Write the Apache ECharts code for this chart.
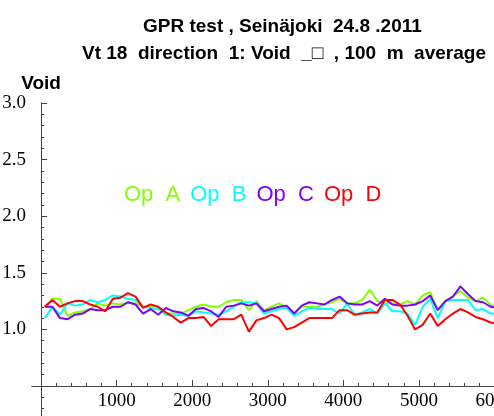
<!DOCTYPE html>
<html>
<head>
<meta charset="utf-8">
<script src="https://cdn.jsdelivr.net/npm/echarts@6/dist/echarts.min.js"></script>
<style>html,body{margin:0;padding:0;background:#fff}#c{width:494px;height:416px}</style>
</head>
<body>
<div id="c"></div>
<script>
// distance along road (m), one value per 100 m section
const distance = [50,150,250,350,450,550,650,750,850,950,1050,1150,1250,1350,1450,1550,1650,1750,1850,1950,
  2050,2150,2250,2350,2450,2550,2650,2750,2850,2950,3050,3150,3250,3350,3450,3550,3650,3750,3850,3950,
  4050,4150,4250,4350,4450,4550,4650,4750,4850,4950,5050,5150,5250,5350,5450,5550,5650,5750,5850,5950,6050];
const opA = [1.20,1.27,1.27,1.12,1.15,1.16,1.18,1.23,1.21,1.23,1.22,1.24,1.23,1.20,1.21,1.20,1.14,1.14,1.14,1.17,
  1.20,1.22,1.20,1.20,1.24,1.26,1.26,1.17,1.25,1.17,1.20,1.23,1.19,1.14,1.20,1.20,1.20,1.22,1.24,1.27,
  1.23,1.23,1.26,1.35,1.25,1.23,1.23,1.22,1.25,1.22,1.30,1.33,1.17,1.25,1.29,1.34,1.28,1.25,1.28,1.22,1.18];
const opB = [1.10,1.20,1.13,1.23,1.21,1.22,1.26,1.24,1.26,1.30,1.29,1.27,1.26,1.20,1.19,1.18,1.13,1.12,1.13,1.12,
  1.16,1.15,1.14,1.13,1.16,1.20,1.24,1.24,1.23,1.14,1.16,1.18,1.19,1.12,1.16,1.19,1.18,1.18,1.18,1.14,
  1.23,1.13,1.15,1.18,1.14,1.23,1.16,1.16,1.14,1.04,1.20,1.27,1.10,1.25,1.26,1.26,1.26,1.17,1.18,1.14,1.14];
const opC = [1.20,1.20,1.10,1.09,1.13,1.14,1.18,1.17,1.17,1.20,1.20,1.24,1.22,1.14,1.18,1.13,1.19,1.16,1.15,1.12,
  1.18,1.19,1.16,1.11,1.20,1.21,1.23,1.21,1.23,1.16,1.18,1.20,1.21,1.14,1.21,1.24,1.23,1.22,1.26,1.29,
  1.23,1.22,1.22,1.25,1.21,1.27,1.22,1.21,1.21,1.22,1.25,1.30,1.17,1.25,1.29,1.38,1.31,1.25,1.24,1.20,1.19];
const opD = [1.20,1.26,1.20,1.23,1.25,1.25,1.22,1.20,1.16,1.27,1.28,1.32,1.29,1.19,1.22,1.20,1.15,1.11,1.06,1.10,
  1.10,1.11,1.03,1.09,1.09,1.09,1.13,0.98,1.08,1.10,1.13,1.10,1.00,1.02,1.06,1.10,1.10,1.10,1.10,1.17,
  1.17,1.13,1.14,1.15,1.15,1.26,1.26,1.22,1.12,1.00,1.04,1.14,1.03,1.09,1.14,1.18,1.15,1.11,1.09,1.06,1.05];
const seriesNames = ['Op  A','Op  B','Op  C','Op  D'];
const seriesColors = ['#80ff00','#00ffff','#8000ff','#ff0000'];
const xMajorTicks = [1000,2000,3000,4000,5000,6000];
const xMinorTicks = [200,400,600,800,1200,1400,1600,1800,2200,2400,2600,2800,3200,3400,3600,3800,4200,4400,4600,4800,5200,5400,5600,5800];
const yMajorTicks = [1.0,1.5,2.0,2.5,3.0];
const yMinorTicks = [0.3,0.4,0.6,0.7,0.8,0.9,1.1,1.2,1.3,1.4,1.6,1.7,1.8,1.9,2.1,2.2,2.3,2.4,2.6,2.7,2.8,2.9];

const allSeries = [opA, opB, opC, opD];
const chart = echarts.init(document.getElementById('c'), null, {renderer:'canvas'});
const axisColor = '#444';
const serif = 'Liberation Serif';
const sans = 'Liberation Sans';
const xBase = {
  type:'value', min:-120, max:6100, position:'bottom', offset:-30,
  axisLine:{show:true, onZero:false, lineStyle:{color:axisColor, width:1}},
  splitLine:{show:false}
};
const yBase = {
  type:'value', min:0.235, max:3.0, position:'left',
  axisLine:{show:true, onZero:true, onZeroAxisIndex:0, lineStyle:{color:axisColor, width:1}},
  splitLine:{show:false}
};
chart.setOption({
  animation:false,
  backgroundColor:'#fff',
  title:[
    {text:'GPR test , Seinäjoki  24.8 .2011', left:143, top:17, padding:0,
     textStyle:{fontFamily:sans, fontWeight:'bold', fontSize:19, color:'#000'}},
    {text:'Vt 18  direction  1: Void  _□  , 100  m  average', left:82, top:44, padding:0,
     textStyle:{fontFamily:sans, fontWeight:'bold', fontSize:19, color:'#000'}}
  ],
  legend:{
    left:119, top:184, padding:0, itemGap:5, itemWidth:0, itemHeight:0, icon:'rect',
    selectedMode:false,
    data: seriesNames.map((n,i)=>({name:n, textStyle:{color:seriesColors[i]}})),
    textStyle:{fontFamily:sans, fontSize:22}
  },
  grid:{left:32, right:-8, top:103, bottom:0, containLabel:false, outerBoundsMode:'none'},
  xAxis:[
    Object.assign({}, xBase, {
      axisTick:{show:true, inside:true, length:6, customValues:xMajorTicks, lineStyle:{color:axisColor}},
      axisLabel:{show:true, customValues:xMajorTicks, margin:6, fontFamily:serif, fontSize:19, color:'#000',
        formatter:v=>String(v)}
    }),
    Object.assign({}, xBase, {
      axisTick:{show:true, inside:true, length:3, customValues:xMinorTicks, lineStyle:{color:axisColor}},
      axisLabel:{show:false}
    })
  ],
  yAxis:[
    Object.assign({}, yBase, {
      name:'Void', nameLocation:'end', nameGap:8,
      nameTextStyle:{fontFamily:sans, fontWeight:'bold', fontSize:19, color:'#000'},
      axisTick:{show:true, inside:true, length:6, customValues:yMajorTicks, lineStyle:{color:axisColor}},
      axisLabel:{show:true, customValues:yMajorTicks, margin:6, fontFamily:serif, fontSize:19, color:'#000',
        formatter:v=>v.toFixed(1)}
    }),
    Object.assign({}, yBase, {
      axisTick:{show:true, inside:true, length:3, customValues:yMinorTicks, lineStyle:{color:axisColor}},
      axisLabel:{show:false}
    })
  ],
  series: allSeries.map((vals,i)=>({
    name:seriesNames[i], type:'line', xAxisIndex:0, yAxisIndex:0,
    data: distance.map((d,k)=>[d, vals[k]]),
    showSymbol:false, symbol:'none', smooth:false,
    lineStyle:{color:seriesColors[i], width:2},
    itemStyle:{color:seriesColors[i]},
    emphasis:{disabled:true}
  }))
});
</script>
</body>
</html>
